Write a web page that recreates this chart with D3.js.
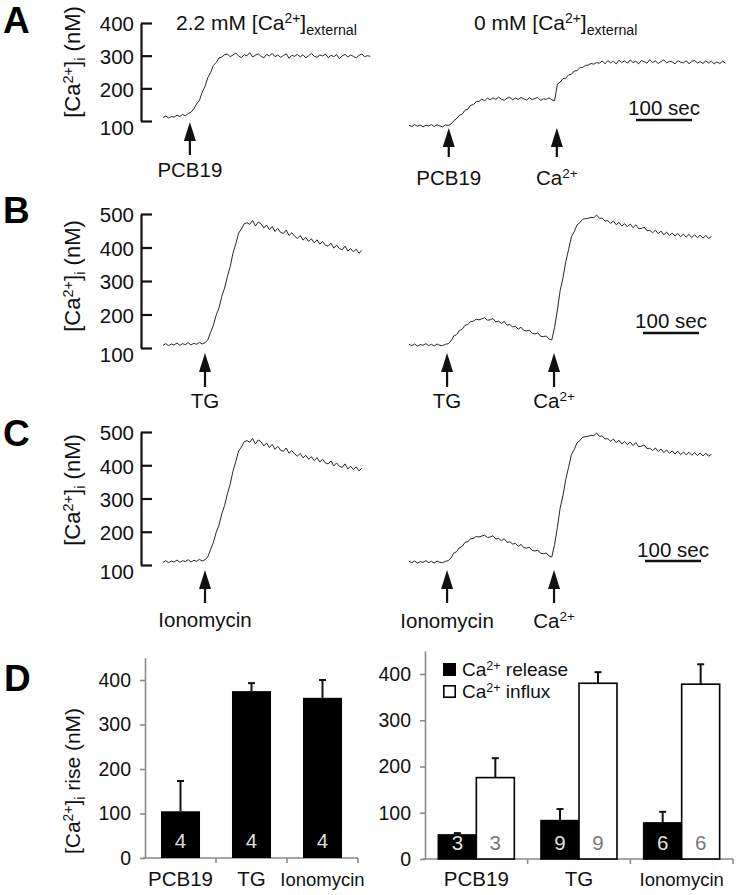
<!DOCTYPE html>
<html><head><meta charset="utf-8">
<script src="https://cdn.jsdelivr.net/npm/d3@7"></script>
<style>body{margin:0;background:#fff}svg{display:block}text{font-family:"Liberation Sans",Arial,sans-serif}</style>
</head><body><svg id="c" width="737" height="895"></svg>
<script>
// ---------------- data ----------------
const sampleStep = 5; // seconds between samples
const aLeft = [111,115,109,114,112,118,114,120,116,123,127,
 137,152,163,188,206,233,248,270,279,293,296,303,
 305,297,302,308,299,294,303,300,309,296,301,306,298,293,304,299,307,297,302,295,300,306,292,301,298,304,296,303,293,300,307,298,295,302,299,305,294,301,297,303,291,299,304,296,302,298,293,301,305,297,300,298];
const aRight = [87,83,89,84,88,82,87,85,89,83,88,85,82,88,86,
 91,101,107,117,121,133,136,148,150,159,160,167,162,170,
 165,171,166,173,167,163,170,172,165,170,166,172,168,164,171,166,169,172,163,168,166,171,165,162,
 213,219,230,231,241,243,253,254,263,264,270,271,276,274,279,277,284,275,285,278,283,275,286,279,284,277,287,279,283,275,285,282,277,288,279,284,276,282,287,278,283,281,275,285,280,278,284,276,282,286,277,282,276,284,278,283,275,281,276,283,277];
const bLeft = [108,113,107,112,109,115,108,113,110,116,109,114,111,117,112,116,
 124,147,168,198,220,254,279,314,343,383,411,443,455,471,474,
 469,481,464,476,471,458,467,453,463,448,457,445,442,452,436,444,434,427,436,422,430,418,426,414,423,410,418,407,404,413,398,407,397,393,404,389,397,387,395,383,391];
const bRight = [111,107,112,106,110,108,113,107,111,106,112,108,107,111,
 113,121,136,140,152,156,168,170,179,180,186,184,187,190,183,184,188,178,180,173,179,168,170,163,165,156,162,152,151,153,144,142,145,135,134,136,127,124,
 162,213,272,310,358,394,432,447,467,474,484,486,487,490,489,497,487,488,479,480,472,479,468,475,464,471,462,470,459,468,456,457,461,450,451,444,452,441,449,438,446,436,443,434,442,432,440,431,439,430,438,429,437,428,436,427,433];
// panel C traces are the same recordings as panel B in the figure
const cLeft = bLeft.slice();
const cRight = bRight.slice();
// stimulus times (s from start of each trace)
const aLeftStim = [48], aRightStim = [71, 264];
const bLeftStim = [75], bRightStim = [68, 259];
const cLeftStim = [75], cRightStim = [68, 259];
const aLeftLabels = ["PCB19"], aRightLabels = ["PCB19", "Ca2+"];
const bLeftLabels = ["TG"], bRightLabels = ["TG", "Ca2+"];
const cLeftLabels = ["Ionomycin"], cRightLabels = ["Ionomycin", "Ca2+"];
const yTicksA = [100, 200, 300, 400];
const yTicksBC = [100, 200, 300, 400, 500];
const yTicksD = [0, 100, 200, 300, 400];
const barCats = ["PCB19", "TG", "Ionomycin"];
const riseMean = [105, 375, 360];
const riseErr = [68, 18, 40];
const riseN = [4, 4, 4];
const releaseMean = [52, 83, 78];
const releaseErr = [4, 25, 24];
const releaseN = [3, 9, 6];
const influxMean = [176, 380, 378];
const influxErr = [42, 24, 43];
const influxN = [3, 9, 6];
const seriesNames = ["release", "influx"];

// ---------------- helpers ----------------
const svg = d3.select("#c");
const FONT = 20;

function rich(sel, parts, fs) {
  // parts: strings; "^xx" = superscript, "_xx" = subscript
  let shift = 0;
  parts.forEach(p => {
    let txt = p, size = fs, target = 0;
    if (p[0] === "^") { txt = p.slice(1); size = fs * 0.66; target = -fs * 0.32; }
    else if (p[0] === "_") { txt = p.slice(1); size = fs * 0.68; target = fs * 0.24; }
    sel.append("tspan").attr("dy", target - shift).attr("font-size", size).text(txt);
    shift = target;
  });
}
function label(x, y, parts, opts = {}) {
  const t = svg.append("text").attr("x", x).attr("y", y)
    .attr("font-size", opts.fs || FONT)
    .attr("text-anchor", opts.anchor || "start")
    .attr("fill", opts.fill || "#111");
  if (opts.rotate) t.attr("x", 0).attr("y", 0).attr("transform", `translate(${x},${y}) rotate(-90)`);
  rich(t, parts, opts.fs || FONT);
  return t;
}
function ionParts(s) { return s === "Ca2+" ? ["Ca", "^2+"] : [s]; }

function drawTrace(vals, x, y) {
  const line = d3.line().x((d, i) => x(i * sampleStep)).y(d => y(d));
  svg.append("path").datum(vals).attr("d", line)
    .attr("fill", "none").attr("stroke", "#262626").attr("stroke-width", 1).attr("stroke-linejoin", "round");
}
function drawArrow(xp, tip, bottom) {
  svg.append("path").attr("d", `M${xp},${tip} L${xp - 6},${tip + 19} L${xp + 6},${tip + 19} Z`).attr("fill", "#111");
  svg.append("line").attr("x1", xp).attr("x2", xp).attr("y1", tip + 17).attr("y2", bottom)
    .attr("stroke", "#111").attr("stroke-width", 2.2);
}
function traceAxis(y, ticks, ax) {
  const g = svg.append("g").attr("transform", `translate(${ax},0)`)
    .call(d3.axisLeft(y).tickValues(ticks).tickSize(-11).tickSizeOuter(0).tickPadding(7).tickFormat(d3.format("d")));
  g.select(".domain").attr("stroke", "#111").attr("stroke-width", 2.2);
  g.selectAll(".tick line").attr("stroke", "#111").attr("stroke-width", 2.2);
  g.selectAll(".tick text").attr("font-size", 20.5).attr("fill", "#111")
    .attr("font-family", '"Liberation Sans",Arial,sans-serif')
    .attr("dy", (d, i) => i === 0 ? "0.65em" : "0.38em");
}
function scaleBar(xs, cx, ty, by) {
  const len = xs(100) - xs(0);
  svg.append("line").attr("x1", cx - len / 2).attr("x2", cx + len / 2).attr("y1", by).attr("y2", by)
    .attr("stroke", "#111").attr("stroke-width", 2.6);
  label(cx, ty, ["100 sec"], { anchor: "middle", fs: 20.5 });
}

// ---------------- panels A-C ----------------
const pxPerSec = 0.56;
const xLeft = d3.scaleLinear().domain([0, 600]).range([163, 163 + 600 * pxPerSec]);
const xRight = d3.scaleLinear().domain([0, 600]).range([409, 409 + 600 * pxPerSec]);

const panels = [
  { L: "A", Ly: 33, y: d3.scaleLinear().domain([100, 400]).range([121, 23]), ticks: yTicksA,
    left: aLeft, right: aRight, lStim: aLeftStim, rStim: aRightStim, lLab: aLeftLabels, rLab: aRightLabels,
    lArrow: [122, 155], rArrow: [128, 157], lLabY: 177, rLabY: 185, ylabY: 62, bar: [664, 115, 120] },
  { L: "B", Ly: 223, y: d3.scaleLinear().domain([100, 500]).range([348, 214]), ticks: yTicksBC,
    left: bLeft, right: bRight, lStim: bLeftStim, rStim: bRightStim, lLab: bLeftLabels, rLab: bRightLabels,
    lArrow: [353, 387], rArrow: [353, 387], lLabY: 408, rLabY: 408, ylabY: 276, bar: [671, 328, 333] },
  { L: "C", Ly: 446, y: d3.scaleLinear().domain([100, 500]).range([565, 432]), ticks: yTicksBC,
    left: cLeft, right: cRight, lStim: cLeftStim, rStim: cRightStim, lLab: cLeftLabels, rLab: cRightLabels,
    lArrow: [570, 603], rArrow: [570, 603], lLabY: 627, rLabY: 628, ylabY: 490, bar: [673, 557, 561] }
];

panels.forEach(p => {
  svg.append("text").attr("x", 3).attr("y", p.Ly).attr("font-size", 37).attr("font-weight", "bold")
    .attr("fill", "#000").text(p.L);
  traceAxis(p.y, p.ticks, 141);
  label(80, p.ylabY, ["[Ca", "^2+", "]", "_i", " (nM)"], { rotate: true, anchor: "middle", fs: 22 });
  drawTrace(p.left, xLeft, p.y);
  drawTrace(p.right, xRight, p.y);
  p.lStim.forEach((t, i) => {
    const xp = xLeft(t);
    drawArrow(xp, p.lArrow[0], p.lArrow[1]);
    label(xp, p.lLabY, ionParts(p.lLab[i]), { anchor: "middle", fs: 20.5 });
  });
  p.rStim.forEach((t, i) => {
    const xp = xRight(t);
    drawArrow(xp, p.rArrow[0], p.rArrow[1]);
    label(xp, p.rLabY, ionParts(p.rLab[i]), { anchor: "middle", fs: 20.5 });
  });
  scaleBar(xRight, p.bar[0], p.bar[1], p.bar[2]);
});
label(176, 30, ["2.2 mM [Ca", "^2+", "]", "_external"], { fs: 21 });
label(474, 30, ["0 mM [Ca", "^2+", "]", "_external"], { fs: 21 });

// ---------------- panel D ----------------
svg.append("text").attr("x", 4).attr("y", 691).attr("font-size", 37).attr("font-weight", "bold").attr("fill", "#000").text("D");
label(80, 781, ["[Ca", "^2+", "]", "_i", " rise (nM)"], { rotate: true, anchor: "middle", fs: 21 });

function barAxes(x, y, x0px) {
  const g = svg.append("g").attr("transform", `translate(${x0px},0)`)
    .call(d3.axisLeft(y).tickValues(yTicksD).tickSize(5).tickSizeOuter(0).tickPadding(9).tickFormat(d3.format("d")));
  g.select(".domain").attr("stroke", "#8a8a8a").attr("stroke-width", 1.6);
  g.selectAll(".tick line").attr("stroke", "#8a8a8a").attr("stroke-width", 1.6);
  g.selectAll(".tick text").attr("font-size", 19.5).attr("fill", "#111")
    .attr("font-family", '"Liberation Sans",Arial,sans-serif');
  const [r0, r1] = x.range();
  const base = y(0);
  svg.append("line").attr("x1", r0 - 2).attr("x2", r1).attr("y1", base).attr("y2", base)
    .attr("stroke", "#8a8a8a").attr("stroke-width", 1.6);
  for (let i = 1; i <= x.domain().length; i++) {
    const xb = r0 + i * x.step();
    svg.append("line").attr("x1", xb).attr("x2", xb).attr("y1", base).attr("y2", base + 5)
      .attr("stroke", "#8a8a8a").attr("stroke-width", 1.6);
  }
  barCats.forEach(c => {
    const cx = x(c) + x.bandwidth() / 2;
    svg.append("text").attr("x", cx).attr("y", 886).attr("text-anchor", "middle")
      .attr("font-size", c === "Ionomycin" ? 18.5 : 20.5).attr("fill", "#111").text(c);
  });
}
function errBar(cx, y, v, e) {
  svg.append("line").attr("x1", cx).attr("x2", cx).attr("y1", y(v)).attr("y2", y(v + e))
    .attr("stroke", "#111").attr("stroke-width", 2);
  svg.append("line").attr("x1", cx - 3.5).attr("x2", cx + 3.5).attr("y1", y(v + e)).attr("y2", y(v + e))
    .attr("stroke", "#111").attr("stroke-width", 2);
}

// D left
const xD1 = d3.scaleBand().domain(barCats).range([145, 358]).paddingInner(0.45).paddingOuter(0.225);
const yD1 = d3.scaleLinear().domain([0, 450]).range([858, 858 - 450 * 0.445]);
barAxes(xD1, yD1, 145);
barCats.forEach((c, i) => {
  const x0 = xD1(c), w = xD1.bandwidth();
  errBar(x0 + w / 2, yD1, riseMean[i], riseErr[i]);
  svg.append("rect").attr("x", x0).attr("y", yD1(riseMean[i])).attr("width", w)
    .attr("height", yD1(0) - yD1(riseMean[i])).attr("fill", "#000");
  svg.append("text").attr("x", x0 + w / 2).attr("y", 848).attr("text-anchor", "middle")
    .attr("font-size", 20.5).attr("fill", "#ddd").text(riseN[i]);
});

// D right
const xD2 = d3.scaleBand().domain(barCats).range([425, 733]).paddingInner(0.26).paddingOuter(0.13);
const xD2s = d3.scaleBand().domain(seriesNames).range([0, xD2.bandwidth()]);
const yD2 = d3.scaleLinear().domain([0, 450]).range([859, 859 - 450 * 0.4625]);
barAxes(xD2, yD2, 425);
const groups = [
  { key: "release", mean: releaseMean, err: releaseErr, n: releaseN, fill: "#000", nFill: "#e0e0e0" },
  { key: "influx", mean: influxMean, err: influxErr, n: influxN, fill: "#fff", nFill: "#777" }
];
barCats.forEach((c, i) => {
  groups.forEach(gp => {
    const x0 = xD2(c) + xD2s(gp.key), w = xD2s.bandwidth();
    errBar(x0 + w / 2, yD2, gp.mean[i], gp.err[i]);
    svg.append("rect").attr("x", x0).attr("y", yD2(gp.mean[i])).attr("width", w)
      .attr("height", yD2(0) - yD2(gp.mean[i])).attr("fill", gp.fill)
      .attr("stroke", "#000").attr("stroke-width", 1.6);
    svg.append("text").attr("x", x0 + w / 2).attr("y", 850).attr("text-anchor", "middle")
      .attr("font-size", 20.5).attr("fill", gp.nFill).text(gp.n[i]);
  });
});
// legend
svg.append("rect").attr("x", 443).attr("y", 663).attr("width", 13).attr("height", 13).attr("fill", "#000");
svg.append("rect").attr("x", 443.8).attr("y", 685.8).attr("width", 11.4).attr("height", 11.4)
  .attr("fill", "#fff").attr("stroke", "#000").attr("stroke-width", 1.6);
label(462, 676, ["Ca", "^2+", " release"], { fs: 19 });
label(462, 698, ["Ca", "^2+", " influx"], { fs: 19 });
</script></body></html>
